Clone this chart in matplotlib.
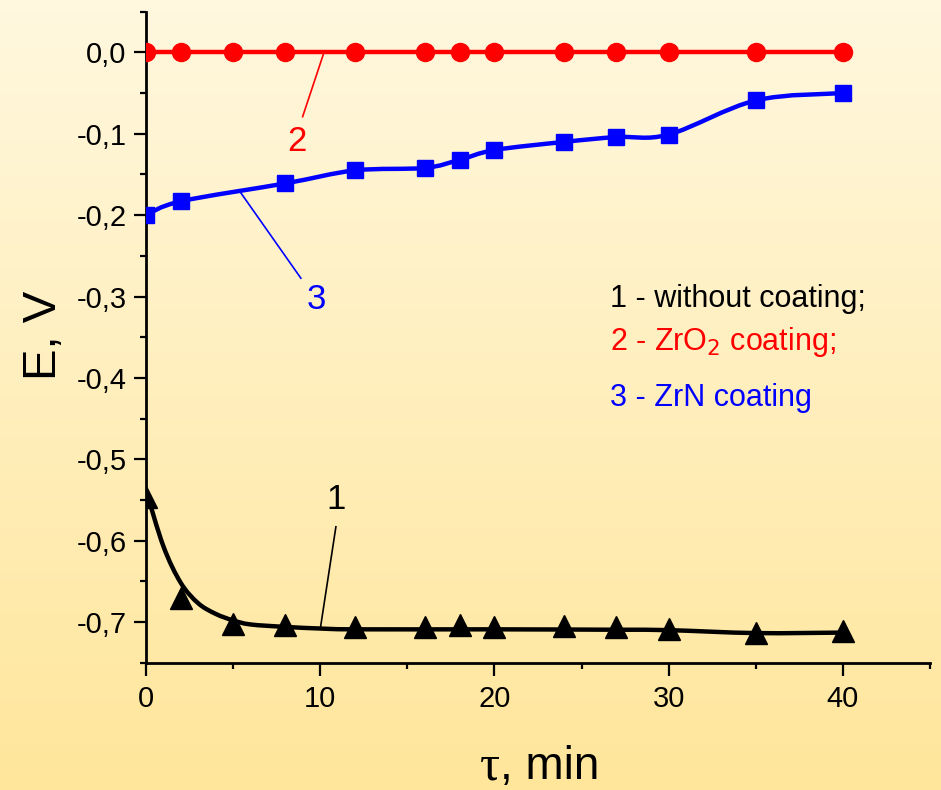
import numpy as np
import matplotlib
matplotlib.use("Agg")
import matplotlib.pyplot as plt
from matplotlib.ticker import FixedLocator, MultipleLocator
from matplotlib.path import Path
from matplotlib.patches import PathPatch

plt.rcParams['font.family'] = ['Liberation Sans', 'DejaVu Sans']

# ---------------- data ----------------
t = [0, 2, 5, 8, 12, 16, 18, 20, 24, 27, 30, 35, 40]
e_uncoated = [-0.546, -0.670, -0.702, -0.704, -0.706, -0.706, -0.704,
              -0.706, -0.705, -0.706, -0.708, -0.713, -0.711]
e_zro2 = [0, 0, 0, 0, 0, 0, 0, 0, 0, 0, 0, 0, 0]
t_zrn = [0, 2, 8, 12, 16, 18, 20, 24, 27, 30, 35, 40]
e_zrn = [-0.200, -0.183, -0.161, -0.145, -0.142, -0.132, -0.120,
         -0.110, -0.104, -0.101, -0.059, -0.050]
# fitted curve for series 1
t_fit1 = [0, 1, 2, 3, 4, 5, 6, 8, 10, 12, 20, 27, 30, 35, 40]
e_fit1 = [-0.538, -0.607, -0.652, -0.677, -0.690, -0.698, -0.703,
          -0.706, -0.708, -0.709, -0.709, -0.7095, -0.710, -0.7136, -0.713]

xticks = [0, 10, 20, 30, 40]
xticklabels = ["0", "10", "20", "30", "40"]
yticks = [0.0, -0.1, -0.2, -0.3, -0.4, -0.5, -0.6, -0.7]
yticklabels = ["0,0", "-0,1", "-0,2", "-0,3", "-0,4", "-0,5", "-0,6", "-0,7"]
legend_lines = ["1 - without coating;", "2 - ZrO$_2$ coating;", "3 - ZrN coating"]


def smooth_path(xs, ys):
    """Catmull-Rom curve through the given points as cubic Bezier path."""
    p = np.column_stack([xs, ys]).astype(float)
    verts = [p[0]]
    codes = [Path.MOVETO]
    n = len(p)
    for i in range(n - 1):
        p0 = p[i - 1] if i > 0 else p[i]
        p1, p2 = p[i], p[i + 1]
        p3 = p[i + 2] if i + 2 < n else p[i + 1]
        c1 = p1 + (p2 - p0) / 6.0
        c2 = p2 - (p3 - p1) / 6.0
        verts += [c1, c2, p2]
        codes += [Path.CURVE4] * 3
    return Path(verts, codes)


# ---------------- figure ----------------
W, H = 941, 790
fig = plt.figure(figsize=(W / 100, H / 100), dpi=100)

# background gradient
bg = fig.add_axes([0, 0, 1, 1], zorder=0)
top = np.array([255, 248, 223]) / 255
bot = np.array([255, 230, 155]) / 255
g = np.linspace(0, 1, 256)[:, None]
grad = top[None, :] * (1 - g) + bot[None, :] * g
bg.imshow(grad[:, None, :].repeat(2, axis=1), aspect='auto', extent=[0, 1, 0, 1])
bg.axis('off')

ax = fig.add_axes([146 / W, 1 - 662.7 / H, (930 - 146) / W, (662.7 - 11.7) / H], zorder=1)
ax.set_facecolor('none')
ax.set_xlim(0, 45)
ax.set_ylim(-0.75, 0.05)

lw = 3.2
# series 2 (red)
ax.plot(t, e_zro2, color='#ff0000', lw=lw, marker='o', ms=13, zorder=3)
# series 3 (blue): smooth line + markers
ax.add_patch(PathPatch(smooth_path(t_zrn, e_zrn), fc='none', ec='#0000ff', lw=lw, zorder=3))
ax.plot(t_zrn, e_zrn, ls='none', color='#0000ff', marker='s', ms=12, zorder=3)
# series 1 (black): fit line + markers
ax.add_patch(PathPatch(smooth_path(t_fit1, e_fit1), fc='none', ec='black', lw=lw, zorder=3))
ax.plot(t, e_uncoated, ls='none', color='black', marker='^', ms=16.5, zorder=4)

# spines & ticks
for s in ['top', 'right']:
    ax.spines[s].set_visible(False)
for s in ['left', 'bottom']:
    ax.spines[s].set_linewidth(2)
ax.xaxis.set_major_locator(FixedLocator(xticks))
ax.set_xticklabels(xticklabels)
ax.xaxis.set_minor_locator(MultipleLocator(5))
ax.yaxis.set_major_locator(FixedLocator(yticks))
ax.set_yticklabels(yticklabels)
ax.yaxis.set_minor_locator(MultipleLocator(0.05))
ax.tick_params(which='major', length=9, width=1.6, labelsize=21, pad=5, direction='out')
ax.tick_params(which='minor', length=4, width=1.6, direction='out')
ax.tick_params(axis='x', which='major', pad=7)

# curve labels with leader lines
ax.plot([10.17, 8.99], [-0.003, -0.079], color='#ff0000', lw=1.2, zorder=2)
ax.text(8.69, -0.110, '2', color='#ff0000', fontsize=25, ha='center', va='center')
ax.plot([5.39, 8.89], [-0.171, -0.2775], color='#0000ff', lw=1.2, zorder=2)
ax.text(9.75, -0.304, '3', color='#0000ff', fontsize=25, ha='center', va='center')
ax.plot([10.02, 10.9], [-0.706, -0.583], color='black', lw=1.2, zorder=2)
ax.text(10.9, -0.549, '1', color='black', fontsize=25, ha='center', va='center')

# legend text
leg_colors = ['black', '#ff0000', '#0000ff']
leg_y = [-0.3124, -0.3656, -0.4344]
for txt, c, yy in zip(legend_lines, leg_colors, leg_y):
    ax.text(26.62, yy, txt, color=c, fontsize=22, ha='left', va='baseline')

# axis labels
fig.text(44 / W, 1 - 335 / H, 'E, V', rotation=90, fontsize=34, ha='center', va='center')
fig.text(500 / W, 1 - 779 / H, 'τ', fontsize=36, ha='right', va='baseline',
         family=['Liberation Serif', 'DejaVu Serif'])
fig.text(500 / W, 1 - 779 / H, ', min', fontsize=33, ha='left', va='baseline')

fig.savefig('out.png', dpi=100)
